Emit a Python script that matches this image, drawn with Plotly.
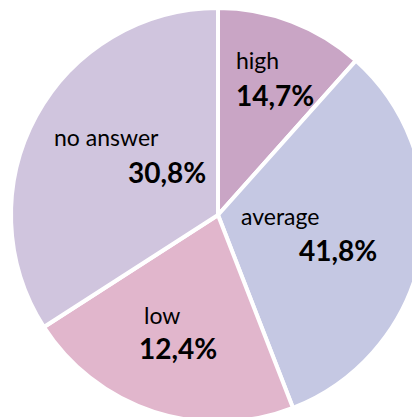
import plotly.graph_objects as go

# Data
categories = ["high", "average", "low", "no answer"]
slice_values = [11.6, 32.5, 21.8, 34.1]          # angular share as drawn
percent_labels = ["14,7%", "41,8%", "12,4%", "30,8%"]  # printed labels
colors = ["#C9A5C5", "#C5C8E3", "#E1B6CC", "#D0C5DE"]

W, H = 440, 440
cx, cy, R = 218, 215, 207  # pie centre / radius in pixels

fig = go.Figure(go.Pie(
    labels=categories,
    values=slice_values,
    sort=False,
    direction="clockwise",
    rotation=0,
    marker=dict(colors=colors, line=dict(color="white", width=4)),
    textinfo="none",
    hoverinfo="label",
    showlegend=False,
    domain=dict(x=[(cx - R) / W, (cx + R) / W],
                y=[1 - (cy + R) / H, 1 - (cy - R) / H]),
))

# label placement (pixel positions)
label_pos = {
    "high":      dict(name=(234, 60, "left"),  pct=(234, 95, "left")),
    "average":   dict(name=(239, 216, "left"), pct=(379, 250, "right")),
    "low":       dict(name=(162, 315, "center"), pct=(178, 348, "center")),
    "no answer": dict(name=(52, 137, "left"),  pct=(208, 172, "right")),
}
font_family = "Lato, 'Open Sans', sans-serif"
for cat, pct in zip(categories, percent_labels):
    p = label_pos[cat]
    x, y, a = p["name"]
    fig.add_annotation(x=x / W, y=1 - y / H, xref="paper", yref="paper",
                       text=cat, showarrow=False, xanchor=a, yanchor="middle",
                       font=dict(family=font_family, size=23, color="black"))
    x, y, a = p["pct"]
    fig.add_annotation(x=x / W, y=1 - y / H, xref="paper", yref="paper",
                       text="<b>" + pct + "</b>", showarrow=False, xanchor=a,
                       yanchor="middle",
                       font=dict(family=font_family, size=28, color="black"))

fig.update_layout(width=W, height=H, autosize=False,
                  margin=dict(l=0, r=0, t=0, b=0),
                  paper_bgcolor="white", plot_bgcolor="white")

fig.write_html("out.html", config={"displayModeBar": False},
               post_script="document.body.style.margin='0';"
                           "document.body.style.overflow='hidden';"
                           "document.documentElement.style.overflow='hidden';")
